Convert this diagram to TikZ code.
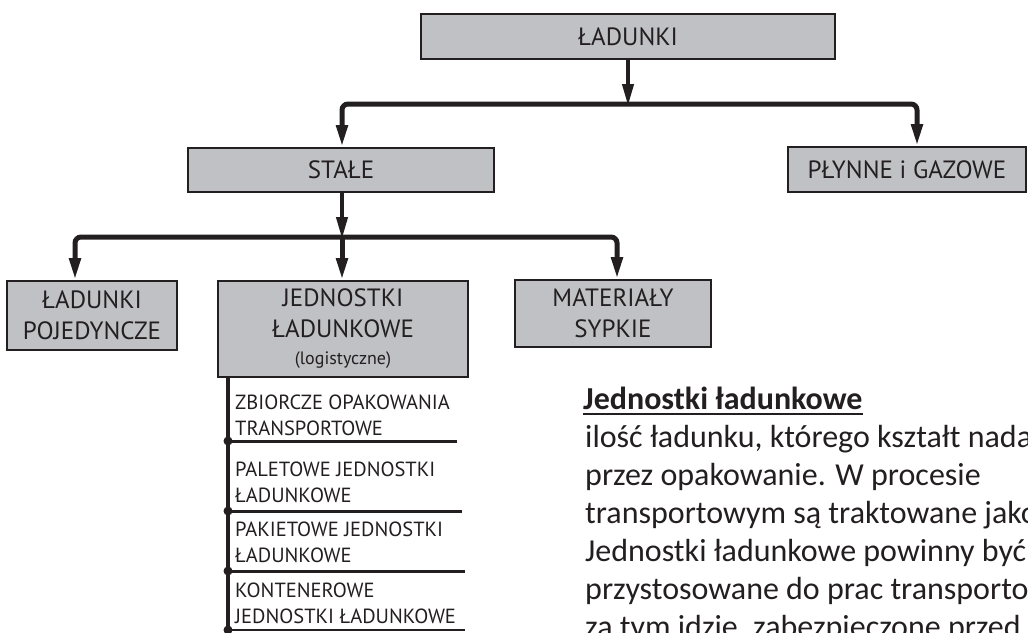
\documentclass[tikz,border=0pt]{standalone}
\usepackage{fontspec}
\setmainfont{PT Sans}
\newfontfamily\parafont{Carlito}
\usetikzlibrary{arrows.meta}
\definecolor{boxgray}{RGB}{192,193,197}
\definecolor{ink}{RGB}{35,31,32}
\tikzset{
  box/.style={draw=ink, line width=2pt, fill=boxgray, inner sep=0pt, text=ink,
    font=\fontsize{25}{31}\selectfont, align=center},
  stem/.style={draw=ink, line width=4pt, -{Triangle[length=22pt,width=11pt]}},
  branch/.style={draw=ink, line width=5pt, rounded corners=6pt, -{Triangle[length=22pt,width=11pt]}},
  sepline/.style={draw=ink, line width=3pt},
  item/.style={anchor=west, align=left, inner sep=0pt, text=ink, font=\fontsize{20.5}{26}\selectfont},
  para/.style={anchor=base west, inner sep=0pt, text=ink, font=\parafont\fontsize{32}{38}\selectfont},
}
\begin{document}
\begin{tikzpicture}[x=1pt,y=-1pt]
\useasboundingbox (0,0) rectangle (1028,632);
\clip (0,0) rectangle (1028,632);
% boxes
\node[box, minimum width=414pt, minimum height=45pt] (lad) at (628,36.5) {ŁADUNKI};
\node[box, minimum width=306pt, minimum height=44pt] (stale) at (341,170) {STAŁE};
\node[box, minimum width=238pt, minimum height=45pt] (plyn) at (907,169.5) {PŁYNNE i GAZOWE};
\node[box, minimum width=170pt, minimum height=69pt] (poj) at (92,315.5) {ŁADUNKI\\POJEDYNCZE};
\node[box, minimum width=250pt, minimum height=96pt] (jedn) at (343,329) {JEDNOSTKI\\ŁADUNKOWE\\[-4pt]{\fontsize{18}{22}\selectfont(logistyczne)}};
\node[box, minimum width=196pt, minimum height=67pt] (mat) at (613,313.5) {MATERIAŁY\\SYPKIE};
% connectors level 1
\coordinate (j1) at (628,104);
\draw[stem] (lad.south) -- ([yshift=-2pt]j1);
\draw[branch] (j1) -| ([xshift=1pt]stale.north);
\draw[branch] (j1) -| ([xshift=10pt]plyn.north);
% level 2
\coordinate (j2) at (342,237);
\draw[stem] ([xshift=1pt]stale.south) -- ([yshift=-2pt]j2);
\draw[branch] (j2) -| ([xshift=-17pt]poj.north);
\draw[branch] (j2) -| ([xshift=4pt]mat.north);
\draw[branch] (j2) -- ([xshift=-1pt]jedn.north);
% sublist
\coordinate (vtop) at (228,377);
\coordinate (vbot) at (228,640);
\draw[draw=ink, line width=4pt] (vtop) -- (vbot);
\coordinate (s1) at (228,441); \coordinate (e1) at (457,441);
\coordinate (s2) at (228,511); \coordinate (e2) at (462,511);
\coordinate (s3) at (228,571); \coordinate (e3) at (465,571);
\coordinate (s4) at (228,630); \coordinate (e4) at (465,630);
\draw[sepline] (s1) -- (e1);
\draw[sepline] (s2) -- (e2);
\draw[sepline] (s3) -- (e3);
\draw[draw=ink, line width=2pt] (s4) -- (e4);
\foreach \s in {s1,s2,s3,s4} \fill[ink] (\s) circle (4.5pt);
\node[item] (i1) at (235,415) {ZBIORCZE OPAKOWANIA\\TRANSPORTOWE};
\node[item] (i2) at (235,482.5) {PALETOWE JEDNOSTKI\\ŁADUNKOWE};
\node[item] (i3) at (235,542) {PAKIETOWE JEDNOSTKI\\ŁADUNKOWE};
\node[item] (i4) at (235,603.5) {KONTENEROWE\\JEDNOSTKI ŁADUNKOWE};
% paragraph
\node[para, font=\parafont\bfseries\fontsize{32}{38}\selectfont] (head) at (583,409) {Jednostki ładunkowe};
\draw[draw=ink, line width=2.5pt] ([yshift=-5pt]head.base west) -- ([yshift=-5pt]head.base east);
\node[para] (p1) at (585,447) {ilość ładunku, którego kształt nada};
\node[para] (p2) at (585,485) {przez opakowanie. W procesie};
\node[para] (p3) at (585,523) {transportowym są traktowane jako};
\node[para] (p4) at (585,561) {Jednostki ładunkowe powinny być};
\node[para] (p5) at (585,599) {przystosowane do prac transporto};
\node[para] (p6) at (585,637) {za tym idzie, zabezpieczone przed};
\end{tikzpicture}
\end{document}
